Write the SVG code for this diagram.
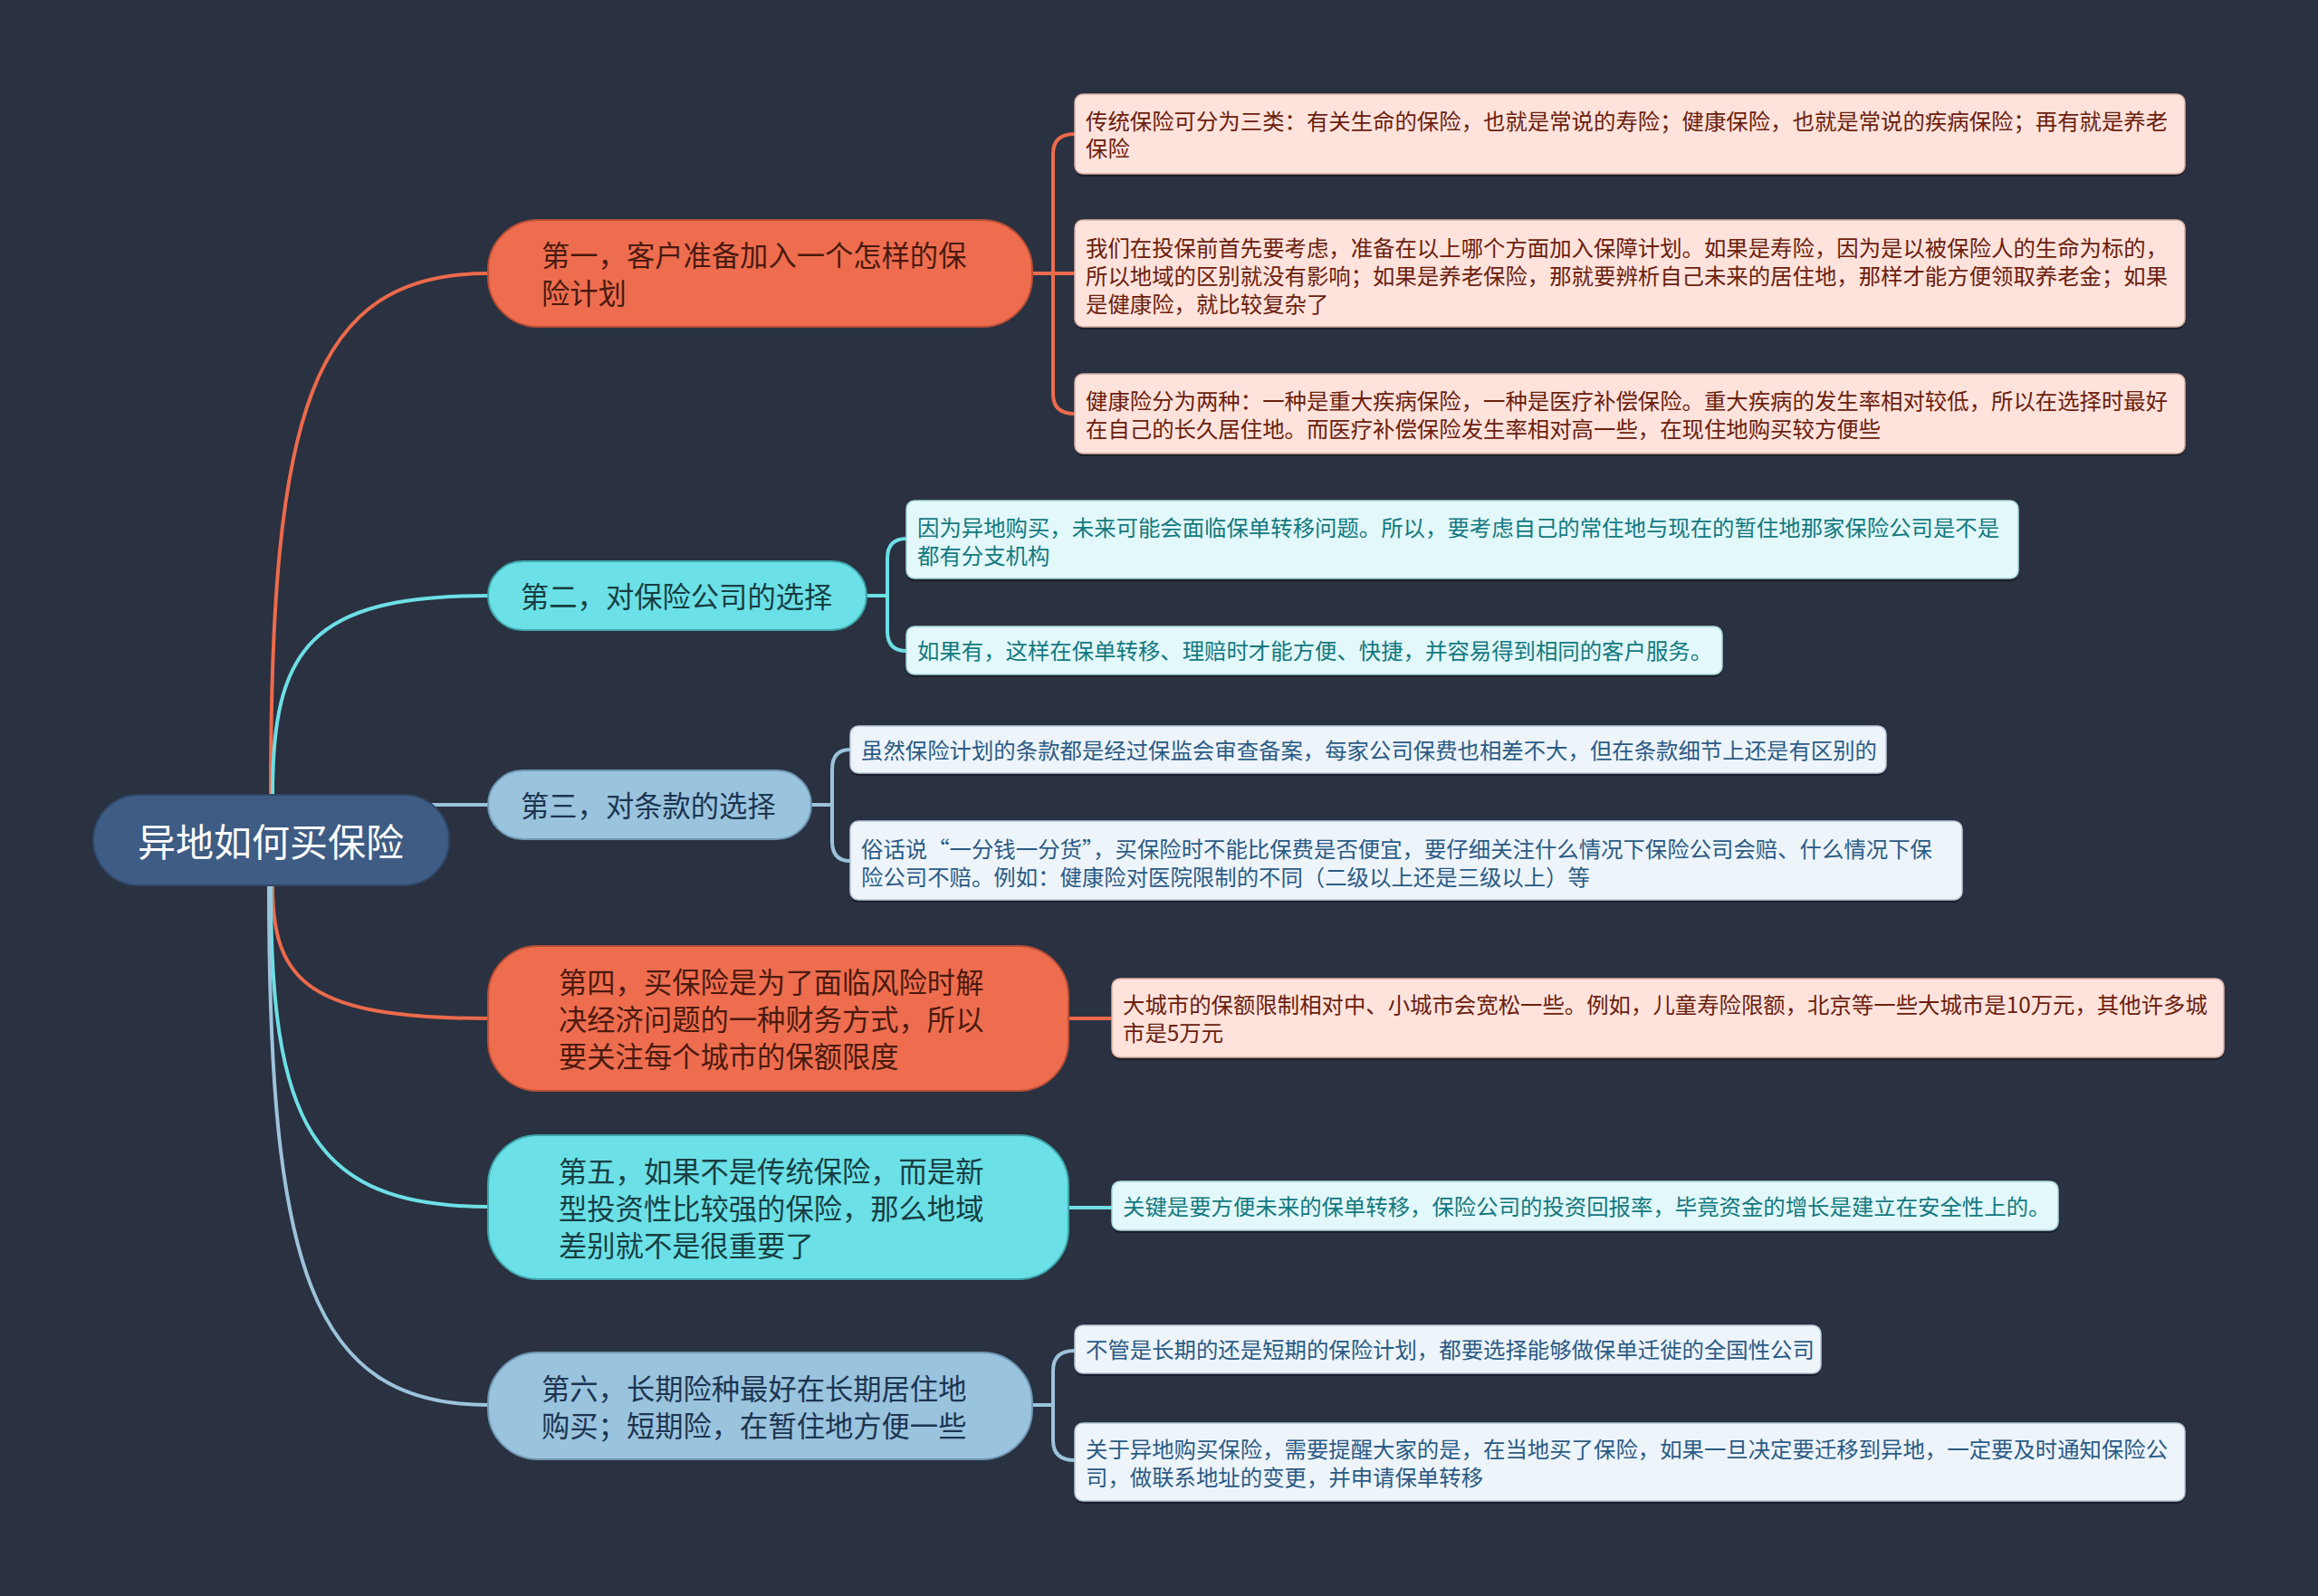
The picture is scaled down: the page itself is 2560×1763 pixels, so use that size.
<svg xmlns="http://www.w3.org/2000/svg" width="2560" height="1763" viewBox="0 0 2560 1763">
<style>
text{font-family:"Noto Sans CJK SC","Noto Sans",sans-serif;dominant-baseline:central}
.c{fill:none;stroke-width:4;stroke-linecap:round}
.co{stroke:#ec6a4c}.cy{stroke:#6ddfe5}.bl{stroke:#9cc3dc}
.root{fill:#3e5c84;stroke:#2f4766;stroke-width:2}
.rt{fill:#ffffff;font-size:42px}
.bco{fill:#ee6d4f;stroke:#b84e36;stroke-width:2}
.bcy{fill:#6be0e6;stroke:#3fa6ac;stroke-width:2}
.bbl{fill:#9ac3de;stroke:#6e97b3;stroke-width:2}
.tco{fill:#4a1a0e;font-size:31.3px}
.tcy{fill:#173e42;font-size:31.3px}
.tbl{fill:#1c3550;font-size:31.3px}
.lco{fill:#fde3dc;stroke:#d9b0a5;stroke-width:1.5}
.lcy{fill:#e2f8fa;stroke:#a9d6d9;stroke-width:1.5}
.lbl{fill:#edf4fa;stroke:#b6c9d8;stroke-width:1.5}
.sh{fill:#1a1f29}
.xco{fill:#6b200d;font-size:24.4px}
.xcy{fill:#13797f;font-size:24.4px}
.xbl{fill:#2b5b85;font-size:24.4px}
</style>
<rect x="0" y="0" width="2560" height="1763" fill="#2a3140"/>
<g id="connectors">
<path class="c co" d="M299 878 C299 458 342 302 539 302"/>
<path class="c cy" d="M301 878 C301 717 342 658 539 658"/>
<path class="c bl" d="M470 889 L539 889"/>
<path class="c co" d="M301 978 C301 1085 342 1125 539 1125"/>
<path class="c cy" d="M299 978 C299 1237 342 1333 539 1333"/>
<path class="c bl" d="M297 978 C297 1397 342 1552 539 1552"/>
<path class="c co" d="M1140 302 H1187 M1163 302 V170 Q1163 148 1187 148 M1163 302 V435 Q1163 457 1187 457"/>
<path class="c cy" d="M957 658 H980 M980 658 V617 Q980 595 1001 595 M980 658 V697 Q980 719 1001 719"/>
<path class="c bl" d="M896 889 H919 M919 889 V850 Q919 828 939 828 M919 889 V929 Q919 951 939 951"/>
<path class="c co" d="M1180 1125 H1228"/>
<path class="c cy" d="M1180 1334 H1228"/>
<path class="c bl" d="M1140 1552 H1163 M1163 1552 V1514 Q1163 1492 1187 1492 M1163 1552 V1591 Q1163 1613 1187 1613"/>
</g>
<g id="root">
<rect class="root" x="103" y="878" width="393" height="100" rx="50"/>
<text class="rt" x="299" y="927" text-anchor="middle">异地如何买保险</text>
</g>
<g id="b1">
<rect class="bco" x="539" y="243" width="601" height="118" rx="55"/>
<text class="tco" x="598" y="280">第一，客户准备加入一个怎样的保</text>
<text class="tco" x="598" y="322">险计划</text>
</g>
<g id="b2">
<rect class="bcy" x="539" y="620" width="418" height="76" rx="38"/>
<text class="tcy" x="575" y="657">第二，对保险公司的选择</text>
</g>
<g id="b3">
<rect class="bbl" x="539" y="851" width="357" height="76" rx="38"/>
<text class="tbl" x="575" y="888">第三，对条款的选择</text>
</g>
<g id="b4">
<rect class="bco" x="539" y="1045" width="641" height="160" rx="55"/>
<text class="tco" x="617" y="1083">第四，买保险是为了面临风险时解</text>
<text class="tco" x="617" y="1124">决经济问题的一种财务方式，所以</text>
<text class="tco" x="617" y="1165">要关注每个城市的保额限度</text>
</g>
<g id="b5">
<rect class="bcy" x="539" y="1254" width="641" height="159" rx="55"/>
<text class="tcy" x="617" y="1292">第五，如果不是传统保险，而是新</text>
<text class="tcy" x="617" y="1333">型投资性比较强的保险，那么地域</text>
<text class="tcy" x="617" y="1374">差别就不是很重要了</text>
</g>
<g id="b6">
<rect class="bbl" x="539" y="1494" width="601" height="118" rx="55"/>
<text class="tbl" x="598" y="1532">第六，长期险种最好在长期居住地</text>
<text class="tbl" x="598" y="1573">购买；短期险，在暂住地方便一些</text>
</g>
<g id="l1a">
<rect class="sh" x="1187" y="107" width="1226" height="88" rx="9"/>
<rect class="lco" x="1187" y="104" width="1226" height="88" rx="9"/>
<text class="xco" x="1199" y="132">传统保险可分为三类：有关生命的保险，也就是常说的寿险；健康保险，也就是常说的疾病保险；再有就是养老</text>
<text class="xco" x="1199" y="162">保险</text>
</g>
<g id="l1b">
<rect class="sh" x="1187" y="246" width="1226" height="118" rx="9"/>
<rect class="lco" x="1187" y="243" width="1226" height="118" rx="9"/>
<text class="xco" x="1199" y="272">我们在投保前首先要考虑，准备在以上哪个方面加入保障计划。如果是寿险，因为是以被保险人的生命为标的，</text>
<text class="xco" x="1199" y="303">所以地域的区别就没有影响；如果是养老保险，那就要辨析自己未来的居住地，那样才能方便领取养老金；如果</text>
<text class="xco" x="1199" y="334">是健康险，就比较复杂了</text>
</g>
<g id="l1c">
<rect class="sh" x="1187" y="416" width="1226" height="88" rx="9"/>
<rect class="lco" x="1187" y="413" width="1226" height="88" rx="9"/>
<text class="xco" x="1199" y="441">健康险分为两种：一种是重大疾病保险，一种是医疗补偿保险。重大疾病的发生率相对较低，所以在选择时最好</text>
<text class="xco" x="1199" y="472">在自己的长久居住地。而医疗补偿保险发生率相对高一些，在现住地购买较方便些</text>
</g>
<g id="l2a">
<rect class="sh" x="1001" y="556" width="1228" height="86" rx="9"/>
<rect class="lcy" x="1001" y="553" width="1228" height="86" rx="9"/>
<text class="xcy" x="1013" y="581">因为异地购买，未来可能会面临保单转移问题。所以，要考虑自己的常住地与现在的暂住地那家保险公司是不是</text>
<text class="xcy" x="1013" y="612">都有分支机构</text>
</g>
<g id="l2b">
<rect class="sh" x="1001" y="695" width="901" height="53" rx="9"/>
<rect class="lcy" x="1001" y="692" width="901" height="53" rx="9"/>
<text class="xcy" x="1013" y="717">如果有，这样在保单转移、理赔时才能方便、快捷，并容易得到相同的客户服务。</text>
</g>
<g id="l3a">
<rect class="sh" x="939" y="805" width="1144" height="52" rx="9"/>
<rect class="lbl" x="939" y="802" width="1144" height="52" rx="9"/>
<text class="xbl" x="951" y="827">虽然保险计划的条款都是经过保监会审查备案，每家公司保费也相差不大，但在条款细节上还是有区别的</text>
</g>
<g id="l3b">
<rect class="sh" x="939" y="910" width="1228" height="87" rx="9"/>
<rect class="lbl" x="939" y="907" width="1228" height="87" rx="9"/>
<text class="xbl" x="951" y="936">俗话说“一分钱一分货”，买保险时不能比保费是否便宜，要仔细关注什么情况下保险公司会赔、什么情况下保</text>
<text class="xbl" x="951" y="967">险公司不赔。例如：健康险对医院限制的不同（二级以上还是三级以上）等</text>
</g>
<g id="l4a">
<rect class="sh" x="1228" y="1084" width="1228" height="87" rx="9"/>
<rect class="lco" x="1228" y="1081" width="1228" height="87" rx="9"/>
<text class="xco" x="1240" y="1108">大城市的保额限制相对中、小城市会宽松一些。例如，儿童寿险限额，北京等一些大城市是10万元，其他许多城</text>
<text class="xco" x="1240" y="1139">市是5万元</text>
</g>
<g id="l5a">
<rect class="sh" x="1228" y="1308" width="1045" height="54" rx="9"/>
<rect class="lcy" x="1228" y="1305" width="1045" height="54" rx="9"/>
<text class="xcy" x="1240" y="1331">关键是要方便未来的保单转移，保险公司的投资回报率，毕竟资金的增长是建立在安全性上的。</text>
</g>
<g id="l6a">
<rect class="sh" x="1187" y="1467" width="824" height="53" rx="9"/>
<rect class="lbl" x="1187" y="1464" width="824" height="53" rx="9"/>
<text class="xbl" x="1199" y="1489">不管是长期的还是短期的保险计划，都要选择能够做保单迁徙的全国性公司</text>
</g>
<g id="l6b">
<rect class="sh" x="1187" y="1575" width="1226" height="86" rx="9"/>
<rect class="lbl" x="1187" y="1572" width="1226" height="86" rx="9"/>
<text class="xbl" x="1199" y="1599">关于异地购买保险，需要提醒大家的是，在当地买了保险，如果一旦决定要迁移到异地，一定要及时通知保险公</text>
<text class="xbl" x="1199" y="1630">司，做联系地址的变更，并申请保单转移</text>
</g>
</svg>
